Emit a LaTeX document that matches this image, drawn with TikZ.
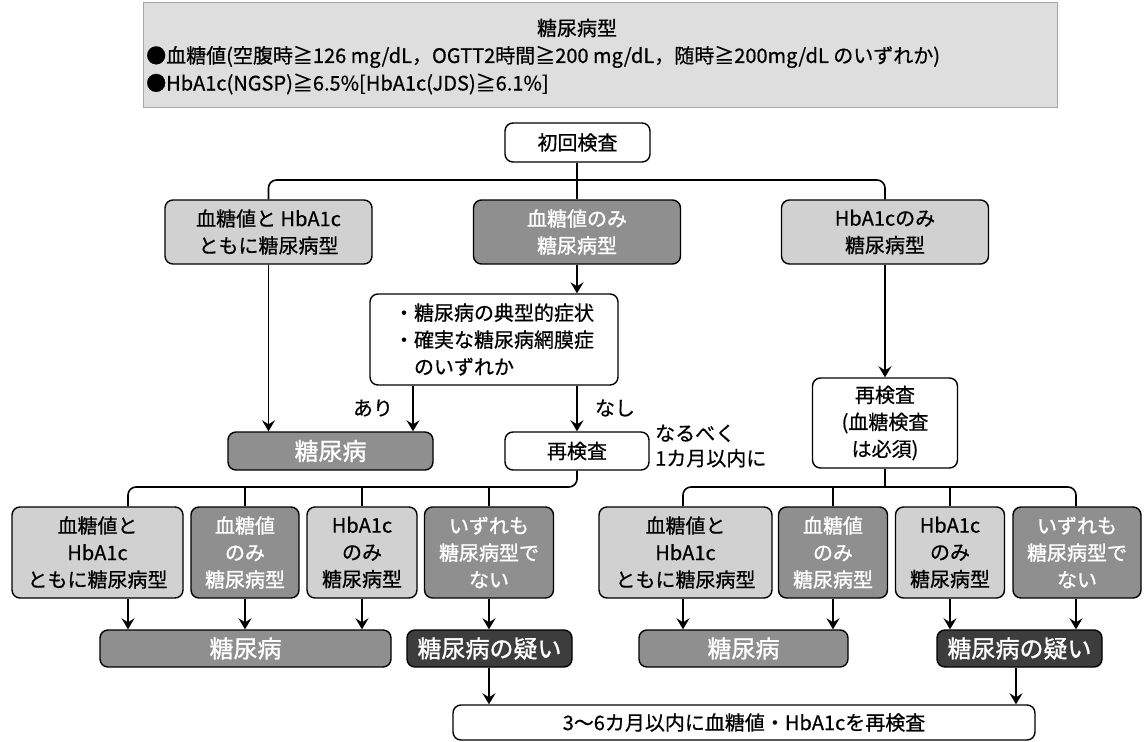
\documentclass[tikz,border=0pt]{standalone}
\usepackage{fontspec}
\setmainfont{Noto Sans CJK JP}[FakeBold=0.6]
\newfontfamily\whitefont{Noto Sans CJK JP}[FakeBold=1.2]
\usetikzlibrary{arrows.meta,calc}
\definecolor{lightbox}{gray}{0.82}
\definecolor{midbox}{gray}{0.56}
\definecolor{darkbox}{gray}{0.24}
\definecolor{headfill}{gray}{0.87}
\newcommand{\outl}[1]{{\whitefont\color{white}#1}}
\tikzset{
  wh/.style 2 args={minimum width=#1,minimum height=#2},
  basebox/.style={draw=black, line width=1.4, rounded corners=8, align=center, inner sep=1, font=\fontsize{20}{27}\selectfont},
  whitebox/.style={basebox, fill=white},
  lightbx/.style={basebox, fill=lightbox},
  midbx/.style={basebox, fill=midbox},
  resultbx/.style={basebox, fill=midbox, font=\fontsize{24}{28}\selectfont},
  darkbx/.style={basebox, fill=darkbox, font=\fontsize{24}{28}\selectfont},
  headtext/.style={font=\fontsize{20}{24}\selectfont, inner sep=0},
  lbl/.style={font=\fontsize{20}{25}\selectfont, inner sep=0, align=left},
  conn/.style={line width=1.6, rounded corners=8},
  arr/.style={line width=1.6, -{Stealth[length=11pt,width=13pt,inset=4pt]}}
}
\begin{document}
\begin{tikzpicture}[x=1pt,y=-1pt]
\useasboundingbox (0,0) rectangle (1144,742);

% header
\node[draw=gray!70, line width=0.8, fill=headfill, wh={914}{105}, anchor=north west] (hdr) at (143,2) {};
\node[headtext] (htitle) at (577,28) {糖尿病型};
\node[headtext, anchor=west] (hl1) at (146,57) {●血糖値(空腹時≧126 mg/dL，OGTT2時間≧200 mg/dL，随時≧200mg/dL のいずれか)};
\node[headtext, anchor=west] (hl2) at (146,84) {●HbA1c(NGSP)≧6.5\%[HbA1c(JDS)≧6.1\%]};

% top level
\node[whitebox, wh={145}{39}] (start) at (577.5,142.5) {初回検査};
\node[lightbx, wh={207}{64}] (A) at (268.5,232) {血糖値と HbA1c\\ともに糖尿病型};
\node[midbx, wh={207}{64}] (B) at (577,232) {\outl{血糖値のみ}\\\outl{糖尿病型}};
\node[lightbx, wh={207}{64}] (C) at (885,232) {HbA1cのみ\\糖尿病型};

\node[whitebox, wh={248}{91}, align=left] (sym) at (494,339.5) {・糖尿病の典型的症状\\・確実な糖尿病網膜症\\\hspace*{1em}のいずれか};

\node[resultbx, wh={205}{38}] (dm1) at (330.5,451) {\outl{糖尿病}};
\node[whitebox, wh={144}{38}] (re1) at (577,451) {再検査};
\node[whitebox, wh={145}{90}] (re2) at (885,423) {再検査\\(血糖検査\\は必須)};

\node[lbl] (ari) at (373,408) {あり};
\node[lbl] (nashi) at (615,408) {なし};
\node[lbl, anchor=west] (soon) at (655,446) {なるべく\\1カ月以内に};

% second level left
\node[lightbx, wh={171}{91}] (L1) at (97.5,552.5) {血糖値と\\HbA1c\\ともに糖尿病型};
\node[midbx, wh={108}{91}] (L2) at (245,552.5) {\outl{血糖値}\\\outl{のみ}\\\outl{糖尿病型}};
\node[lightbx, wh={110}{91}] (L3) at (362,552.5) {HbA1c\\のみ\\糖尿病型};
\node[midbx, wh={129}{91}] (L4) at (489,552.5) {\outl{いずれも}\\\outl{糖尿病型で}\\\outl{ない}};

% second level right
\node[lightbx, wh={173}{91}] (R1) at (685.5,552.5) {血糖値と\\HbA1c\\ともに糖尿病型};
\node[midbx, wh={109}{91}] (R2) at (833,552.5) {\outl{血糖値}\\\outl{のみ}\\\outl{糖尿病型}};
\node[lightbx, wh={109}{91}] (R3) at (950,552.5) {HbA1c\\のみ\\糖尿病型};
\node[midbx, wh={128}{91}] (R4) at (1077,552.5) {\outl{いずれも}\\\outl{糖尿病型で}\\\outl{ない}};

% results
\node[resultbx, wh={291}{37}] (dm2) at (245.5,648.5) {\outl{糖尿病}};
\node[darkbx, wh={165}{37}] (gL) at (489.5,648.5) {\outl{糖尿病の疑い}};
\node[resultbx, wh={209}{37}] (dm3) at (743.5,648.5) {\outl{糖尿病}};
\node[darkbx, wh={165}{37}] (gR) at (1019.5,648.5) {\outl{糖尿病の疑い}};

\node[whitebox, wh={582}{35}] (fin) at (744,722.5) {3〜6カ月以内に血糖値・HbA1cを再検査};

% helper coordinates
\coordinate (tb) at (0,180);
\coordinate (bl) at (0,487);
\coordinate (br) at (0,487);
\coordinate (xari) at (413,0);
\coordinate (d1) at (128,0);
\coordinate (r1) at (683,0);
\coordinate (r4) at (1076,0);
\coordinate (xg) at (489,0);
\coordinate (xgr) at (1016,0);

% connectors top
\draw[conn] (A.north) -- (A.north |- tb) -- (C.north |- tb) -- (C.north);
\draw[conn] (start.south -| B.north) -- (B.north);
\draw[arr] (B.south) -- (B.south |- sym.north);
\draw[arr] (A.south) -- (A.south |- dm1.north);
\draw[arr] (sym.south -| xari) -- (dm1.north -| xari);
\draw[arr] (sym.south -| re1.north) -- (re1.north);
\draw[arr] (C.south) -- (C.south |- re2.north);

% left branch
\draw[conn] (re1.south) -- (re1.south |- bl) -- (d1 |- bl) -- (d1 |- L1.north);
\draw[conn] (L2.north |- bl) -- (L2.north);
\draw[conn] (L3.north |- bl) -- (L3.north);
\draw[conn] (L4.north |- bl) -- (L4.north);

% right branch
\draw[conn] (r1 |- R1.north) -- (r1 |- br) -- (r4 |- br) -- (r4 |- R4.north);
\draw[conn] (re2.south) -- (re2.south |- br);
\draw[conn] (R2.north |- br) -- (R2.north);
\draw[conn] (R3.north |- br) -- (R3.north);

% arrows to results
\draw[arr] (d1 |- L1.south) -- (d1 |- dm2.north);
\draw[arr] (L2.south) -- (L2.south |- dm2.north);
\draw[arr] (L3.south) -- (L3.south |- dm2.north);
\draw[arr] (L4.south) -- (L4.south |- gL.north);
\draw[arr] (r1 |- R1.south) -- (r1 |- dm3.north);
\draw[arr] (R2.south) -- (R2.south |- dm3.north);
\draw[arr] (R3.south) -- (R3.south |- gR.north);
\draw[arr] (r4 |- R4.south) -- (r4 |- gR.north);

% to final
\draw[arr] (xg |- gL.south) -- (xg |- fin.north);
\draw[arr] (xgr |- gR.south) -- (xgr |- fin.north);
\end{tikzpicture}
\end{document}
